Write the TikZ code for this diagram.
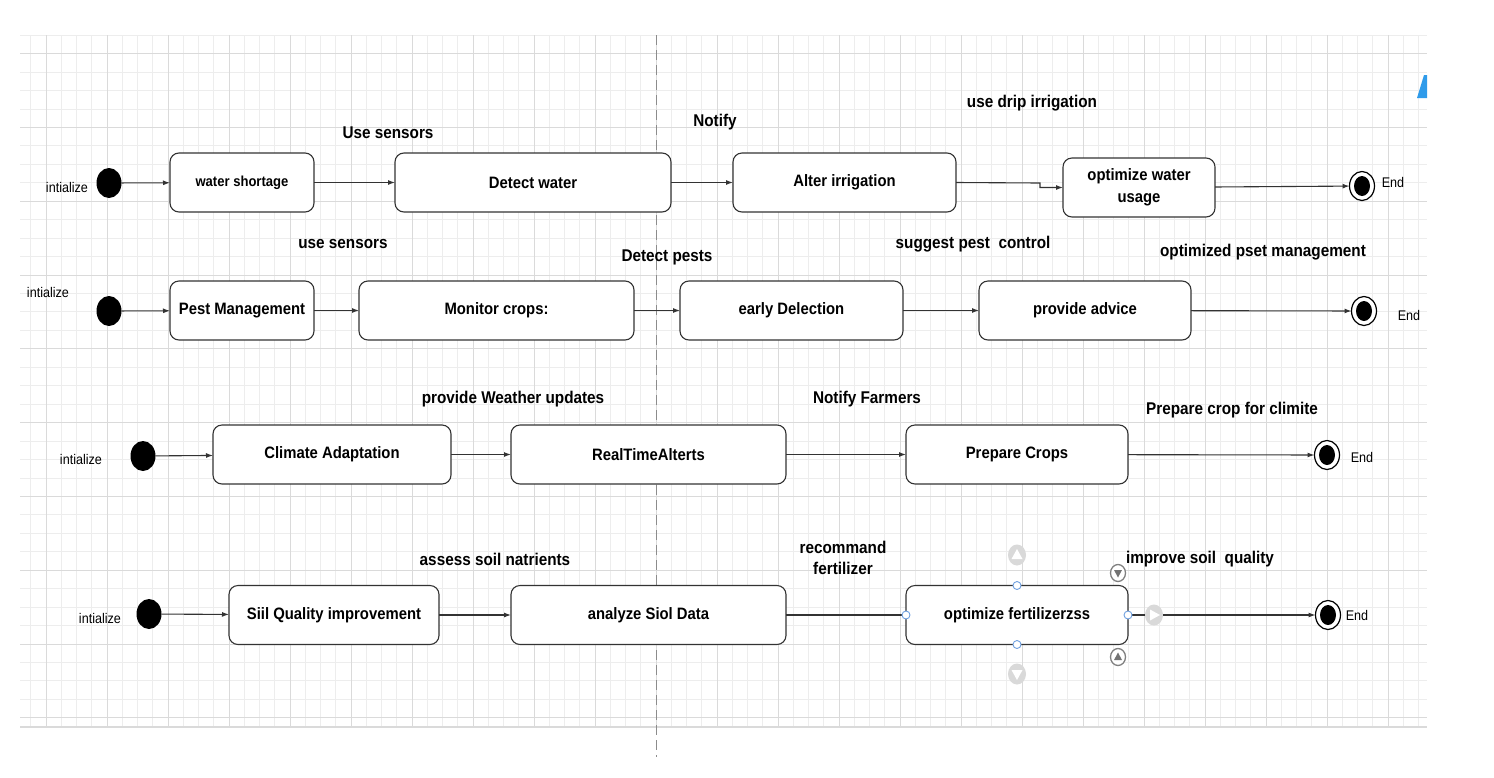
\documentclass[tikz,border=0pt]{standalone}
\usepackage{fontspec}
\setmainfont{Liberation Sans}[FakeStretch=0.9]
\usetikzlibrary{arrows.meta,shapes,positioning}

\definecolor{gridminor}{HTML}{EDEDED}
\definecolor{gridmajor}{HTML}{DADADA}
\definecolor{handleblue}{HTML}{6FA0E0}
\definecolor{hintgray}{HTML}{D9D9D9}
\definecolor{linegray}{HTML}{333333}
\definecolor{markblue}{HTML}{2F9BEA}

\tikzset{
    statebox/.style={
                draw=black!80,
                line width=1.1pt,
                fill=white,
                rounded corners=9pt,
                inner sep=0pt,
                outer sep=0pt,
                minimum height=59pt,
                align=center,
                font=\fontsize{16.5}{22}\selectfont\bfseries
            },
        startdot/.style={
                ellipse,
                fill=black,
                minimum width=25pt,
                minimum height=30pt,
                inner sep=0pt,
                outer sep=0pt
            },
        enddot/.style={
                ellipse,
                draw=black,
                line width=1.2pt,
                fill=white,
                minimum width=25pt,
                minimum height=29pt,
                inner sep=0pt,
                outer sep=0pt,
                path picture={\fill[black] (path picture bounding box.center) ellipse (8pt and 10pt);}
            },
        guard/.style={
                font=\fontsize{17}{21}\selectfont\bfseries,
                inner sep=0pt,
                align=center
            },
        note/.style={
                font=\fontsize{14}{16}\selectfont,
                inner sep=0pt
            },
        flow/.style={draw=linegray, line width=1.1pt, -{Latex[length=7pt,width=5pt]}},
        plain/.style={draw=linegray, line width=1.1pt},
        handle/.style={circle, draw=handleblue, fill=white, line width=0.9pt, minimum size=8pt, inner sep=0pt},
}

\begin{document}
\begin{tikzpicture}[x=1pt, y=-1pt]
  \useasboundingbox (0,0) rectangle (1494,777);
  \fill[white] (0,0) rectangle (1494,777);
  % Grid
  \foreach \gx in {0,...,91} {\draw[gridminor, line width=0.6pt] ({30.75+15.25*\gx},35) -- ++(0,692);}
  \foreach \gy in {0,...,37} {\draw[gridminor, line width=0.6pt] (20,{35+18.45*\gy}) -- ++(1407,0);}
  \foreach \gx in {0,...,22} {\draw[gridmajor, line width=0.7pt] ({46+61*\gx},35) -- ++(0,692);}
  \foreach \gy in {0,...,9} {\draw[gridmajor, line width=0.7pt] (20,{53.5+73.8*\gy}) -- ++(1407,0);}
  \draw[gridmajor, line width=1.6pt] (20,727) -- (1427,727);
  \draw[black!45, line width=0.8pt, dash pattern=on 10pt off 5pt] (656,35) -- (656,757);
  \fill[markblue] (1424,75) -- (1427,75) -- (1427,98) -- (1417,98) -- cycle;

  % Water shortage
  \node[note] (n1) at (67,187) {intialize};
  \node[startdot] (i1) at (109,183) {};
  \node[statebox, minimum width=144pt, font=\fontsize{14.5}{18}\selectfont\bfseries] (ws) at (242,182.5) {water shortage};
  \node[statebox, minimum width=276pt] (dw) at (533,182.5) {Detect water};
  \node[statebox, minimum width=223pt] (ai) at (844.5,182.5) {Alter irrigation};
  \node[statebox, minimum width=152pt] (ow) at (1139,187.5) {optimize water\\usage};
  \node[enddot] (e1) at (1362,186) {};
  \node[note] (t1) at (1393,182) {End};
  \node[guard] (g11) at (388,133) {Use sensors};
  \node[guard] (g12) at (715,122) {Notify};
  \node[guard] (g13) at (1032,103) {use drip irrigation};
  \coordinate (k1) at (1040,183);
  \draw[flow] (i1) -- (ws);
  \draw[flow] (ws) -- (dw);
  \draw[flow] (dw) -- (ai);
  \draw[flow] (ai.east) -- (k1) |- (ow.west);
  \draw[flow] (ow) -- (e1);

  % Pest management
  \node[note] (n2) at (48,292) {intialize};
  \node[startdot] (i2) at (109,311) {};
  \node[statebox, minimum width=144pt] (pm) at (242,310.5) {Pest Management};
  \node[statebox, minimum width=275pt] (mc) at (496.5,310.5) {Monitor crops:};
  \node[statebox, minimum width=223pt] (ed) at (791.5,310.5) {early Delection};
  \node[statebox, minimum width=212pt] (pa) at (1085,310.5) {provide advice};
  \node[enddot] (e2) at (1364,311) {};
  \node[note] (t2) at (1409,315) {End};
  \node[guard] (g21) at (343,244) {use sensors};
  \node[guard] (g22) at (667,257) {Detect pests};
  \node[guard] (g23) at (973,244) {suggest pest\ \ control};
  \node[guard] (g24) at (1263,252) {optimized pset management};
  \draw[flow] (i2) -- (pm);
  \draw[flow] (pm) -- (mc);
  \draw[flow] (mc) -- (ed);
  \draw[flow] (ed) -- (pa);
  \draw[flow] (pa) -- (e2);

  % Climate adaptation
  \node[note] (n3) at (81,459) {intialize};
  \node[startdot] (i3) at (143,456) {};
  \node[statebox, minimum width=238pt] (ca) at (332,454.5) {Climate Adaptation};
  \node[statebox, minimum width=275pt] (rt) at (648.5,454.5) {RealTimeAlterts};
  \node[statebox, minimum width=222pt] (pc) at (1017,454.5) {Prepare Crops};
  \node[enddot] (e3) at (1327,455) {};
  \node[note] (t3) at (1362,457) {End};
  \node[guard] (g31) at (513,399) {provide Weather updates};
  \node[guard] (g32) at (867,399) {Notify Farmers};
  \node[guard] (g33) at (1232,410) {Prepare crop for climite};
  \draw[flow] (i3) -- (ca);
  \draw[flow] (ca) -- (rt);
  \draw[flow] (rt) -- (pc);
  \draw[flow] (pc) -- (e3);

  % Soil quality
  \node[note] (n4) at (100,618) {intialize};
  \node[startdot] (i4) at (149,614) {};
  \node[statebox, minimum width=210pt] (sq) at (334,615) {Siil Quality improvement};
  \node[statebox, minimum width=275pt] (as) at (648.5,615) {analyze Siol Data};
  \node[statebox, minimum width=222pt] (of) at (1017,615) {optimize fertilizerzss};
  \node[enddot] (e4) at (1328,615) {};
  \node[note] (t4) at (1357,615) {End};
  \node[guard] (g41) at (495,559) {assess soil natrients};
  \node[guard] (g42) at (843,558) {recommand\\fertilizer};
  \node[guard] (g43) at (1200,559) {improve soil\ \ quality};
  \draw[flow] (i4) -- (sq);
  \draw[flow] (sq) -- (as);
  \draw[plain] (as) -- (of);
  \draw[flow] (of) -- (e4);

  % Selection handles
  \node[handle] (hw) at (of.west) {};
  \node[handle] (hn) at (of.north) {};
  \node[handle] (he) at (of.east) {};
  \node[handle] (hs) at (of.south) {};
  \fill[hintgray] (1017,555) ellipse (9pt and 10.5pt);
  \fill[white] (1017,549) -- (1022.5,559) -- (1011.5,559) -- cycle;
  \fill[hintgray] (1017,674) ellipse (9pt and 10.5pt);
  \fill[white] (1017,680) -- (1022.5,670) -- (1011.5,670) -- cycle;
  \fill[hintgray] (1154,615) ellipse (9pt and 10.5pt);
  \fill[white] (1160,615) -- (1150,609.5) -- (1150,620.5) -- cycle;
  \draw[black!50, line width=1.3pt, fill=white] (1118,573) ellipse (7.5pt and 8.5pt);
  \fill[black!55] (1118,577.5) -- (1122,570) -- (1114,570) -- cycle;
  \draw[black!50, line width=1.3pt, fill=white] (1118,657) ellipse (7.5pt and 8.5pt);
  \fill[black!55] (1118,652.5) -- (1122,660) -- (1114,660) -- cycle;
\end{tikzpicture}
\end{document}
